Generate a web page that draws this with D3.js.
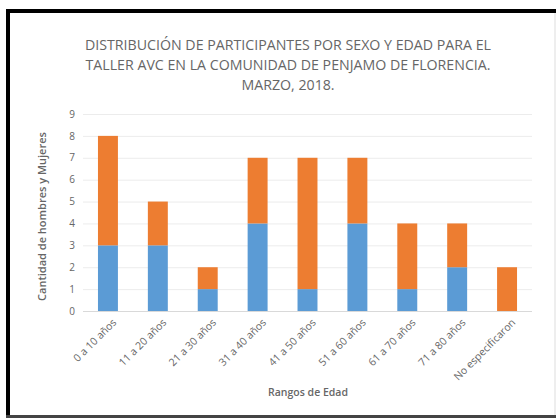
<!DOCTYPE html>
<html>
<head>
<meta charset="utf-8">
<script src="https://cdn.jsdelivr.net/npm/d3@7"></script>
<style>
  html, body { margin: 0; padding: 0; background: #fff; }
  svg { display: block; }
</style>
</head>
<body>
<div id="chart"></div>
<script>
// age ranges and counts per sex
const categories = ["0 a 10 años", "11 a 20 años", "21 a 30 años", "31 a 40 años", "41 a 50 años",
    "51 a 60 años", "61 a 70 años", "71 a 80 años", "No especificaron"];
const hombres = [3, 3, 1, 4, 1, 4, 1, 2, 0];
const mujeres = [5, 2, 1, 3, 6, 3, 3, 2, 2];
const yTicks = [0, 1, 2, 3, 4, 5, 6, 7, 8, 9];
const titleLines = ["DISTRIBUCIÓN DE PARTICIPANTES POR SEXO Y EDAD PARA EL",
    "TALLER AVC EN LA COMUNIDAD DE PENJAMO DE FLORENCIA.",
    "MARZO, 2018."];

const W = 556, H = 418;
const margin = { top: 114, right: 24, bottom: 107, left: 83 };
const width = W - margin.left - margin.right;
const height = H - margin.top - margin.bottom;
const font = "'Open Sans', sans-serif";

const svg = d3.select("#chart").append("svg")
    .attr("width", W)
    .attr("height", H);

// frame (picture is cropped on right/bottom)
svg.append("rect").attr("x", 6).attr("y", 9).attr("width", 550).attr("height", 409).attr("fill", "#fff");
svg.append("line").attr("x1", 6).attr("x2", 556).attr("y1", 11).attr("y2", 11)
    .attr("stroke", "#000").attr("stroke-width", 4);
svg.append("line").attr("x1", 8).attr("x2", 8).attr("y1", 9).attr("y2", 418)
    .attr("stroke", "#000").attr("stroke-width", 4);
svg.append("line").attr("x1", 6).attr("x2", 556).attr("y1", 416.5).attr("y2", 416.5)
    .attr("stroke", "#444").attr("stroke-width", 3);
svg.append("line").attr("x1", 555).attr("x2", 555).attr("y1", 13).attr("y2", 415)
    .attr("stroke", "#ddd").attr("stroke-width", 1);

// title
svg.append("g").selectAll("text")
    .data(titleLines)
    .enter().append("text")
    .attr("x", 288)
    .attr("y", (d, i) => 50 + i * 20)
    .attr("text-anchor", "middle")
    .attr("font-family", font)
    .attr("font-size", 14.2)
    .attr("fill", "#666")
    .text(d => d);

const g = svg.append("g")
    .attr("transform", `translate(${margin.left},${margin.top})`);

const x = d3.scaleBand()
    .domain(categories)
    .range([0, width])
    .paddingInner(0.6)
    .paddingOuter(0.3);

const y = d3.scaleLinear()
    .domain([0, 9])
    .range([height, 0]);

// gridlines
g.append("g")
    .selectAll("line")
    .data(yTicks)
    .enter().append("line")
    .attr("x1", 0)
    .attr("x2", width)
    .attr("y1", d => y(d) + 0.5)
    .attr("y2", d => y(d) + 0.5)
    .attr("stroke", d => d === 0 ? "#d9d9d9" : "#ececec")
    .attr("stroke-width", 1);

// Y axis
const yAxis = g.append("g")
    .call(d3.axisLeft(y).tickValues(yTicks).tickSize(0).tickPadding(8));
yAxis.select(".domain").remove();
yAxis.selectAll("text")
    .attr("font-family", font)
    .attr("font-size", 10)
    .attr("fill", "#666");

// stacked bars
const stack = categories.map((c, i) => ({ cat: c, h: hombres[i], m: mujeres[i] }));

g.append("g").selectAll("rect")
    .data(stack.filter(d => d.h > 0))
    .enter().append("rect")
    .attr("x", d => x(d.cat))
    .attr("width", x.bandwidth())
    .attr("y", d => y(d.h))
    .attr("height", d => y(0) - y(d.h))
    .attr("fill", "#5b9bd5");

g.append("g").selectAll("rect")
    .data(stack.filter(d => d.m > 0))
    .enter().append("rect")
    .attr("x", d => x(d.cat))
    .attr("width", x.bandwidth())
    .attr("y", d => y(d.h + d.m))
    .attr("height", d => y(d.h) - y(d.h + d.m))
    .attr("fill", "#ed7d31");

// X axis
const xAxis = g.append("g")
    .attr("transform", `translate(0,${height})`)
    .call(d3.axisBottom(x).tickSize(0));
xAxis.select(".domain").remove();
xAxis.selectAll("text")
    .attr("font-family", font)
    .attr("font-size", 10.5)
    .attr("fill", "#666")
    .attr("text-anchor", "end")
    .attr("dy", 0)
    .attr("transform", "translate(7,10) rotate(-45)");

// axis titles
svg.append("text")
    .attr("transform", `translate(46,${margin.top + height / 2 + 4}) rotate(-90)`)
    .attr("text-anchor", "middle")
    .attr("font-family", font)
    .attr("font-size", 11)
    .attr("font-weight", 600)
    .attr("fill", "#666")
    .text("Cantidad de hombres y Mujeres");

svg.append("text")
    .attr("x", 308)
    .attr("y", 396)
    .attr("text-anchor", "middle")
    .attr("font-family", font)
    .attr("font-size", 10.5)
    .attr("font-weight", 600)
    .attr("fill", "#666")
    .text("Rangos de Edad");
</script>
</body>
</html>
